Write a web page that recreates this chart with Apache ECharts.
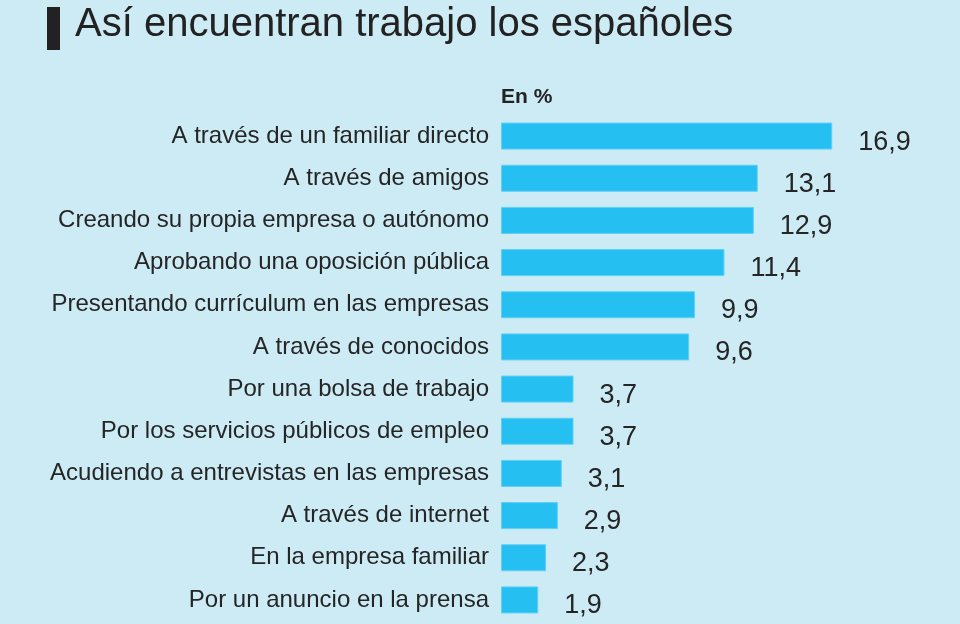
<!DOCTYPE html>
<html><head><meta charset="utf-8">
<script src="https://cdn.jsdelivr.net/npm/echarts@6/dist/echarts.min.js"></script>
<style>html,body{margin:0;padding:0;background:#cdebf5;}#c{width:960px;height:624px;}</style>
</head><body><div id="c"></div>
<script>
const categories = [
  "A través de un familiar directo",
  "A través de amigos",
  "Creando su propia empresa o autónomo",
  "Aprobando una oposición pública",
  "Presentando currículum en las empresas",
  "A través de conocidos",
  "Por una bolsa de trabajo",
  "Por los servicios públicos de empleo",
  "Acudiendo a entrevistas en las empresas",
  "A través de internet",
  "En la empresa familiar",
  "Por un anuncio en la prensa"
];
const values = [16.9, 13.1, 12.9, 11.4, 9.9, 9.6, 3.7, 3.7, 3.1, 2.9, 2.3, 1.9];
const titleText = "Así encuentran trabajo los españoles";
const unitText = "En %";

const FONT = '"Liberation Sans", Arial, sans-serif';
const chart = echarts.init(document.getElementById('c'), null, {renderer:'canvas'});
chart.setOption({
  backgroundColor: '#cdebf5',
  animation: false,
  textStyle: {fontFamily: FONT},
  graphic: [
    {type:'rect', left:47, top:7, shape:{width:13, height:43}, style:{fill:'#222'}},
    {type:'text', left:75, top:5, style:{text:titleText, font:'40px ' + FONT, fill:'#222'}},
    {type:'text', left:501, top:87, style:{text:unitText, font:'bold 21px ' + FONT, fill:'#222'}}
  ],
  grid: {left:501, right:67, top:115, bottom:3, containLabel:false},
  xAxis: {type:'value', min:0, max:20, show:false},
  yAxis: {
    type:'category', data:categories, inverse:true,
    axisLine:{show:false}, axisTick:{show:false}, splitLine:{show:false},
    axisLabel:{color:'#252525', fontSize:24, margin:12, fontFamily:FONT}
  },
  series: [{
    type:'bar', data:values, barWidth:27,
    itemStyle:{color:'#25bff2', borderColor:'#5fd0f5', borderWidth:1},
    label:{show:true, position:'right', distance:26, offset:[0,6], color:'#252525', fontSize:27,
      fontFamily:FONT,
      formatter: p => String(p.value).replace('.', ',')}
  }]
});
</script></body></html>
